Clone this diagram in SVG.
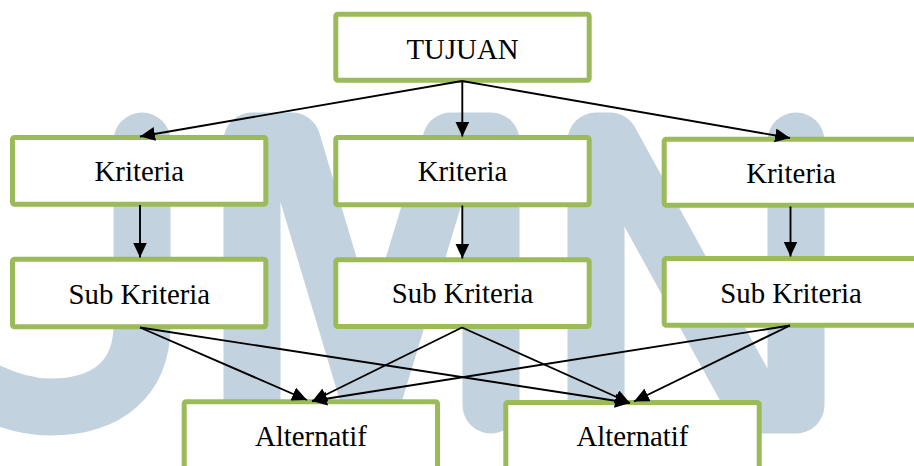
<svg xmlns="http://www.w3.org/2000/svg" width="914" height="466" viewBox="0 0 914 466">
  <defs>
    <style>
      .box { fill: #ffffff; stroke: #9bbb59; stroke-width: 5; }
      .label { font-family: 'Liberation Serif', 'Times New Roman', serif; font-size: 28.8px; fill: #000000; text-anchor: middle; }
      .wire { fill: none; stroke: #000000; stroke-width: 1.9; marker-end: url(#head); }
      .mark { fill: none; stroke: #c2d2df; stroke-width: 57; stroke-linecap: round; stroke-linejoin: round; }
    </style>
    <marker id="head" markerUnits="userSpaceOnUse" markerWidth="16" markerHeight="14" refX="15" refY="7" orient="auto">
      <path d="M0,0 L15,7 L0,14 z" fill="#000000"/>
    </marker>
  </defs>

  <rect width="914" height="466" fill="#ffffff"/>

  <!-- faint logo mark behind the chart -->
  <g id="backdrop-logo">
    <path class="mark" d="M142,141 V325 C142,378 108,407 50,407 C25,407 5,400 -15,390"/>
    <path class="mark" d="M252,405 V141 L292,141 L371,405 L451,141 L491,141 V405"/>
    <path class="mark" d="M596,405 V141 L610,141 L755,405 L796,405 V141"/>
  </g>

  <!-- level 0: goal -->
  <g id="node-tujuan">
    <rect class="box" x="335.8" y="14.2" width="253.4" height="66" rx="2"/>
    <text class="label" x="462.5" y="59">TUJUAN</text>
  </g>

  <!-- level 1: criteria -->
  <g id="node-kriteria-1">
    <rect class="box" x="12.5" y="137.5" width="253.3" height="66.7" rx="2"/>
    <text class="label" x="139.3" y="181">Kriteria</text>
  </g>
  <g id="node-kriteria-2">
    <rect class="box" x="335.8" y="137.5" width="253.4" height="67.3" rx="2"/>
    <text class="label" x="462.5" y="181">Kriteria</text>
  </g>
  <g id="node-kriteria-3">
    <rect class="box" x="664.2" y="139.2" width="253.4" height="66" rx="2"/>
    <text class="label" x="791" y="182.7">Kriteria</text>
  </g>

  <!-- level 2: sub criteria -->
  <g id="node-subkriteria-1">
    <rect class="box" x="12.5" y="259.2" width="253.3" height="67.6" rx="2"/>
    <text class="label" x="139.3" y="304.3">Sub Kriteria</text>
  </g>
  <g id="node-subkriteria-2">
    <rect class="box" x="335.8" y="259.8" width="253.4" height="66.7" rx="2"/>
    <text class="label" x="462.5" y="303.3">Sub Kriteria</text>
  </g>
  <g id="node-subkriteria-3">
    <rect class="box" x="664.2" y="258.5" width="253.4" height="66.7" rx="2"/>
    <text class="label" x="791" y="302.7">Sub Kriteria</text>
  </g>

  <!-- level 3: alternatives -->
  <g id="node-alternatif-1">
    <rect class="box" x="184.2" y="401.8" width="253.3" height="70" rx="2"/>
    <text class="label" x="311" y="446">Alternatif</text>
  </g>
  <g id="node-alternatif-2">
    <rect class="box" x="505.8" y="402.5" width="253.4" height="70" rx="2"/>
    <text class="label" x="632.5" y="446">Alternatif</text>
  </g>

  <!-- connectors -->
  <g id="connectors">
    <path class="wire" d="M462,81 L140,136.5"/>
    <path class="wire" d="M462.3,81 L462.3,136.5"/>
    <path class="wire" d="M462,81 L790,138"/>

    <path class="wire" d="M140,205 V257.5"/>
    <path class="wire" d="M462.3,205.5 V258.5"/>
    <path class="wire" d="M790.5,206.5 V256.5"/>

    <path class="wire" d="M140,327.5 L307,400"/>
    <path class="wire" d="M140,327.5 L630,403"/>
    <path class="wire" d="M462,327.5 L312,401.5"/>
    <path class="wire" d="M462,327.5 L630,403"/>
    <path class="wire" d="M790,325.5 L312,401"/>
    <path class="wire" d="M790,325.5 L634,401.5"/>
  </g>
</svg>
